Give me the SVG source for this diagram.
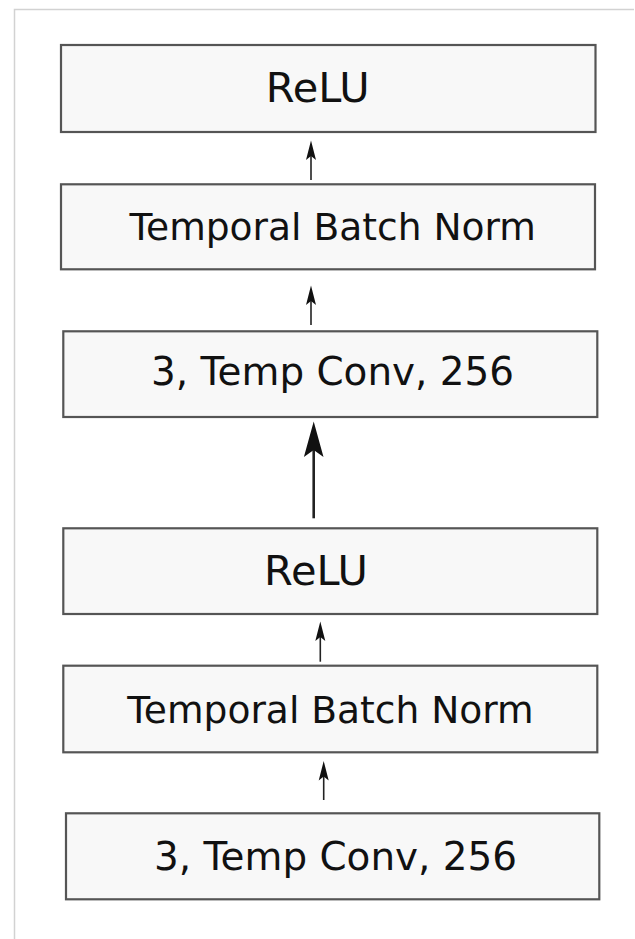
<svg xmlns="http://www.w3.org/2000/svg" width="635" height="939" viewBox="0 0 635 939">
<style>
.frame{stroke:#d2d2d2;stroke-width:1.5;fill:none}
.box{fill:#f8f8f8;stroke:#555;stroke-width:2.2}
.lbl{font-family:"DejaVu Sans",sans-serif;fill:#111}
.line{stroke:#222;fill:none}
.head{fill:#111;stroke:none}
</style>
<rect width="635" height="939" fill="#fff"/>
<path class="frame" d="M14.5,939 V9.5 H634"/>
<g id="connectors">
  <path class="line" stroke-width="1.6" d="M311,180 V150"/>
  <path class="head" d="M311,140.5 L316,160 L311,156 L306,160 Z"/>
  <path class="line" stroke-width="1.6" d="M311,325 V295"/>
  <path class="head" d="M311,285.5 L316,305 L311,301 L306,305 Z"/>
  <path class="line" stroke-width="2.6" d="M313.7,518.3 V440"/>
  <path class="head" d="M313.7,421.5 L323.5,457 L313.7,450 L303.9,457 Z"/>
  <path class="line" stroke-width="1.6" d="M320.3,661.7 V631"/>
  <path class="head" d="M320.3,621.5 L325.3,641 L320.3,637 L315.3,641 Z"/>
  <path class="line" stroke-width="1.6" d="M323.7,800 V770"/>
  <path class="head" d="M323.7,761 L328.7,780.5 L323.7,776.5 L318.7,780.5 Z"/>
</g>
<g id="relu2">
  <rect class="box" x="61" y="45" width="534.5" height="87"/>
  <text class="lbl" x="317.7" y="102.3" font-size="41.5" text-anchor="middle">ReLU</text>
</g>
<g id="bn2">
  <rect class="box" x="61" y="184.3" width="534" height="85"/>
  <text class="lbl" x="332.7" y="240" font-size="37.6" text-anchor="middle">Temporal Batch Norm</text>
</g>
<g id="conv2">
  <rect class="box" x="63.3" y="331.3" width="534" height="85.7"/>
  <text class="lbl" x="332.5" y="385" font-size="38.9" text-anchor="middle">3, Temp Conv, 256</text>
</g>
<g id="relu1">
  <rect class="box" x="63.3" y="528.3" width="534" height="85.7"/>
  <text class="lbl" x="316" y="585" font-size="41.5" text-anchor="middle">ReLU</text>
</g>
<g id="bn1">
  <rect class="box" x="63.3" y="665.7" width="534" height="86.6"/>
  <text class="lbl" x="330.5" y="722.5" font-size="37.6" text-anchor="middle">Temporal Batch Norm</text>
</g>
<g id="conv1">
  <rect class="box" x="66" y="813.3" width="533.3" height="86"/>
  <text class="lbl" x="335.5" y="870" font-size="38.9" text-anchor="middle">3, Temp Conv, 256</text>
</g>
</svg>
